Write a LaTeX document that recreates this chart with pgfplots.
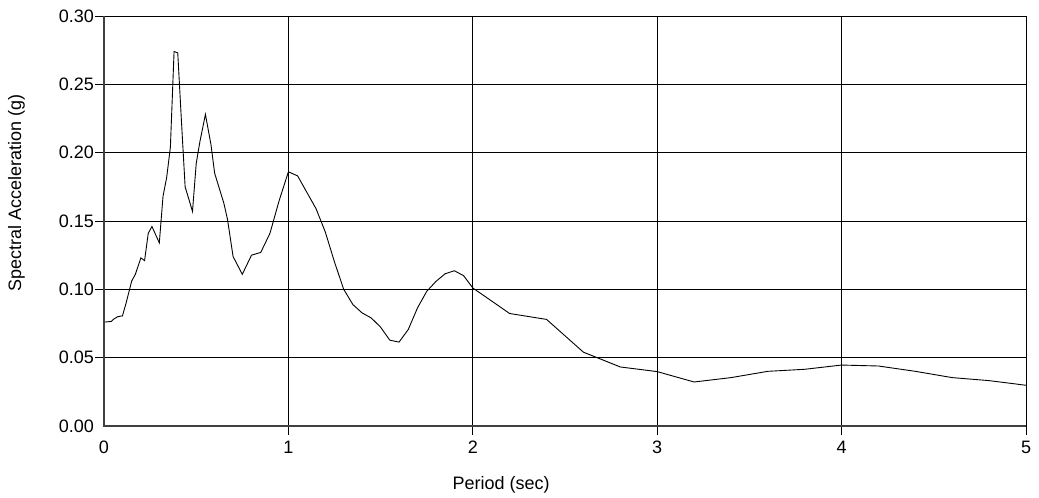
\documentclass[border=0pt]{standalone}
\usepackage{pgfplots}
\pgfplotsset{compat=1.18}
\usepackage{fontspec}
\setmainfont{Liberation Sans}
\begin{document}
\begin{tikzpicture}
\useasboundingbox (-104pt,-72pt) rectangle (935pt,426pt);
\begin{axis}[
  at={(0pt,0pt)}, anchor=south west,
  scale only axis, width=922pt, height=410pt,
  xmin=0, xmax=5, ymin=0, ymax=0.30,
  xtick={1,2,3,4,5},
  ytick={0.05,0.10,0.15,0.20,0.25,0.30},
  extra x ticks={0}, extra y ticks={0},
  extra tick style={major tick length=0pt, grid=none},
  extra x tick style={xticklabel style={yshift=-9pt}},
  extra y tick style={yticklabel style={xshift=-9pt}},
  tick align=outside, major tick length=9pt,
  tick style={black, line width=0.8pt},
  xtick pos=bottom, ytick pos=left,
  grid=major,
  major grid style={black, line width=0.8pt},
  axis line style={draw=none},
  /pgf/number format/assume math mode=true,
  yticklabel style={/pgf/number format/fixed, /pgf/number format/fixed zerofill, /pgf/number format/precision=2},
  xticklabel style={yshift=-5pt},
  ticklabel style={font=\fontsize{18pt}{21pt}\selectfont, inner sep=1pt},
  xlabel={Period (sec)},
  ylabel={Spectral Acceleration (g)},
  every axis x label/.style={at={(axis description cs:0.4306,-0.156)}, anchor=base, font=\fontsize{18pt}{21pt}\selectfont},
  every axis y label/.style={at={(axis description cs:-0.090,0.568)}, anchor=base, rotate=90, font=\fontsize{18pt}{21pt}\selectfont},
  clip=false,
]
\addplot[black, line width=0.9pt] coordinates {
(0,0.076) (0.04,0.0765) (0.05,0.078) (0.075,0.080) (0.1,0.0806) (0.12,0.090)
(0.15,0.106) (0.17,0.111) (0.2,0.123) (0.22,0.121) (0.24,0.141) (0.26,0.146)
(0.3,0.134) (0.32,0.168) (0.34,0.182) (0.36,0.204) (0.38,0.274) (0.40,0.273)
(0.42,0.223) (0.44,0.175) (0.48,0.157) (0.50,0.192) (0.52,0.208) (0.55,0.228)
(0.58,0.206) (0.60,0.185) (0.65,0.163) (0.67,0.151) (0.70,0.124) (0.75,0.111)
(0.80,0.125) (0.85,0.127) (0.875,0.134) (0.90,0.141) (0.95,0.165) (1.0,0.186)
(1.05,0.183) (1.15,0.159) (1.2,0.142) (1.25,0.120) (1.3,0.100) (1.35,0.0888)
(1.4,0.0827) (1.45,0.079) (1.5,0.0723) (1.55,0.0628) (1.6,0.0614) (1.65,0.0706)
(1.7,0.0864) (1.75,0.0985) (1.8,0.1058) (1.85,0.1114) (1.9,0.1136) (1.95,0.110)
(2.0,0.101) (2.2,0.0823) (2.4,0.078) (2.6,0.054) (2.8,0.0432) (3.0,0.0398)
(3.2,0.0322) (3.4,0.0354) (3.6,0.0400) (3.8,0.0415) (4.0,0.0446) (4.2,0.0439)
(4.4,0.040) (4.6,0.0354) (4.8,0.0332) (5.0,0.0298)
};
\draw[black!75, line width=1.6pt] (rel axis cs:0,1) -- (rel axis cs:0,0) -- (rel axis cs:1,0);
\end{axis}
\end{tikzpicture}
\end{document}
